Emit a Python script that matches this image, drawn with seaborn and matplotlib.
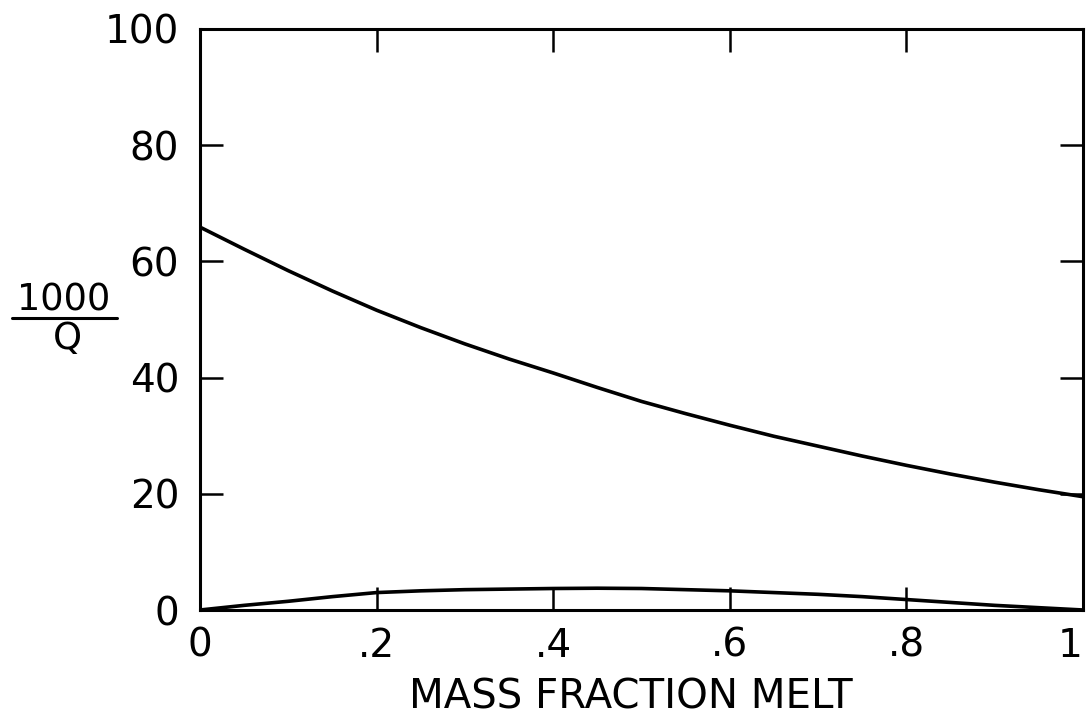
import matplotlib
matplotlib.use("Agg")
import matplotlib.pyplot as plt
from matplotlib.lines import Line2D
import seaborn as sns
import pandas as pd

# Data
melt_fraction = [0.0, 0.05, 0.1, 0.15, 0.2, 0.25, 0.3, 0.35, 0.4, 0.45, 0.5,
                 0.55, 0.6, 0.65, 0.7, 0.75, 0.8, 0.85, 0.9, 0.95, 1.0]
upper_curve = [65.9, 62.1, 58.4, 54.9, 51.6, 48.6, 45.8, 43.2, 40.8, 38.3, 35.9,
               33.8, 31.8, 29.9, 28.2, 26.5, 24.9, 23.4, 22.0, 20.7, 19.5]
lower_curve = [0.0, 0.8, 1.5, 2.3, 3.0, 3.3, 3.5, 3.6, 3.7, 3.75, 3.7,
               3.5, 3.3, 3.0, 2.7, 2.3, 1.8, 1.3, 0.8, 0.4, 0.0]

x_ticks = [0, 0.2, 0.4, 0.6, 0.8, 1.0]
x_tick_labels = ["0", ".2", ".4", ".6", ".8", "1"]
y_ticks = [0, 20, 40, 60, 80, 100]
y_tick_labels = ["0", "20", "40", "60", "80", "100"]

df = pd.DataFrame({
    "x": melt_fraction * 2,
    "y": upper_curve + lower_curve,
    "curve": ["upper"] * len(melt_fraction) + ["lower"] * len(melt_fraction),
})

sns.set_style("ticks")
plt.rcParams["font.family"] = ["DejaVu Sans"]
plt.rcParams["text.color"] = "black"
plt.rcParams["axes.labelcolor"] = "black"

fig = plt.figure(figsize=(10.9, 7.21), dpi=100)
ax = fig.add_axes([200 / 1090, 1 - 610 / 721, 883 / 1090, 581 / 721])

sns.lineplot(data=df, x="x", y="y", units="curve", estimator=None,
             color="black", linewidth=2.6, ax=ax, legend=False)

ax.set_xlim(0, 1)
ax.set_ylim(0, 100)
ax.set_xticks(x_ticks)
ax.set_xticklabels(x_tick_labels)
ax.set_yticks(y_ticks)
ax.set_yticklabels(y_tick_labels)

for s in ax.spines.values():
    s.set_visible(True)
    s.set_linewidth(2.2)
    s.set_color("black")

ax.tick_params(axis="both", which="major", direction="in", length=16.5,
               width=1.8, top=True, right=True, labelsize=28, colors="black")
ax.tick_params(axis="x", pad=12)
ax.tick_params(axis="y", pad=15)

# last x label sits flush with the right frame, as in the reference
last = ax.get_xticklabels()[-1]
last.set_horizontalalignment("right")

ax.set_xlabel("MASS FRACTION MELT", fontsize=29, labelpad=0, color="black")
ax.xaxis.set_label_coords(0.488, -0.151)
ax.xaxis.label.set_va("center")
ax.set_ylabel("")

# y label as a fraction 1000 / Q
fig.text(64 / 1090, 1 - 300 / 721, "1000", fontsize=26.5, ha="center",
         va="center", color="black")
fig.text(67 / 1090, 1 - 339 / 721, "Q", fontsize=26.5, ha="center",
         va="center", color="black")
fig.add_artist(Line2D([12 / 1090, 117 / 1090], [1 - 318 / 721, 1 - 318 / 721],
                      transform=fig.transFigure, color="black", linewidth=2.2))

fig.savefig("out.png", dpi=100, facecolor="white")
